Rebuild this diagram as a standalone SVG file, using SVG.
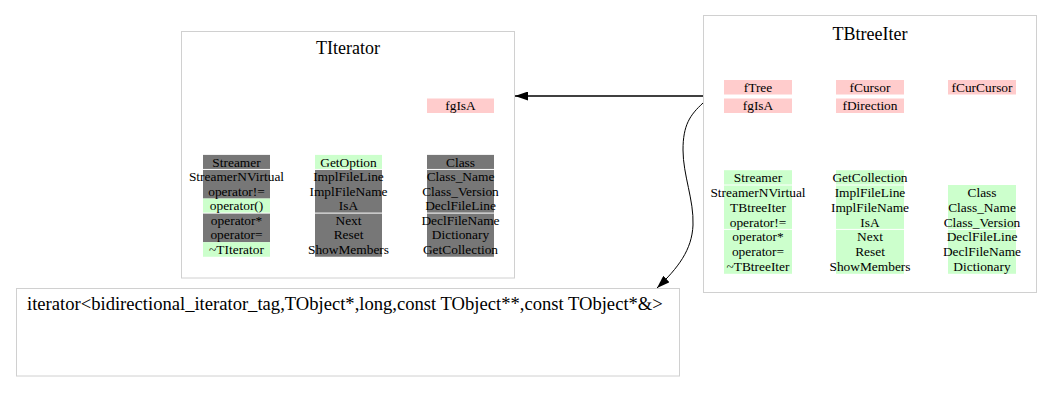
<svg xmlns="http://www.w3.org/2000/svg" width="1052" height="403" viewBox="0 0 1052 403">
<style>
.box{fill:#ffffff;stroke:#d0d0d0;stroke-width:1}
.title{font-family:"Liberation Serif","Times New Roman",serif;font-size:18px;fill:#000;text-anchor:middle}
.t{font-family:"Liberation Serif","Times New Roman",serif;font-size:13.4px;fill:#000;text-anchor:middle}
.big{font-family:"Liberation Serif","Times New Roman",serif;font-size:18.6px;fill:#000}
.f{fill:#ffcccc}
.g{fill:#ccffcc}
.d{fill:#777777}
.sep{stroke:#ffffff;stroke-width:1}
.edge{fill:none;stroke:#000;stroke-width:1}
</style>
<defs>
<marker id="ah" viewBox="0 0 13 9" refX="13" refY="4.5" markerWidth="13" markerHeight="9" markerUnits="userSpaceOnUse" orient="auto">
<path d="M0,0 L13,4.5 L0,9 Z" fill="#000"/>
</marker>
</defs>
<rect width="1052" height="403" fill="#ffffff"/>

<g id="TIterator">
<rect class="box" x="181.5" y="31.5" width="333" height="246.5"/>
<text class="title" x="348" y="54">TIterator</text>
<rect class="f" x="427" y="98.5" width="67" height="14.5"/>
<text class="t" x="460.5" y="110.2">fgIsA</text>
<rect class="d" x="203" y="154.9" width="67" height="43.65"/>
<rect class="g" x="203" y="198.55" width="67" height="14.55"/>
<rect class="d" x="203" y="213.1" width="67" height="29.1"/>
<rect class="g" x="203" y="242.2" width="67" height="14.55"/>
<rect class="g" x="315" y="154.9" width="67" height="14.55"/>
<rect class="d" x="315" y="169.45" width="67" height="87.3"/>
<rect class="d" x="427" y="154.9" width="67" height="101.85"/>
<line class="sep" x1="203" y1="169.45" x2="270" y2="169.45"/>
<line class="sep" x1="203" y1="213.1" x2="270" y2="213.1"/>
<line class="sep" x1="315" y1="169.45" x2="382" y2="169.45"/>
<line class="sep" x1="315" y1="213.1" x2="382" y2="213.1"/>
<line class="sep" x1="427" y1="169.45" x2="494" y2="169.45"/>
<line class="sep" x1="427" y1="213.1" x2="494" y2="213.1"/>
<text class="t" x="236.5" y="166.7">Streamer</text>
<text class="t" x="236.5" y="181.25">StreamerNVirtual</text>
<text class="t" x="236.5" y="195.8">operator!=</text>
<text class="t" x="236.5" y="210.35">operator()</text>
<text class="t" x="236.5" y="224.9">operator*</text>
<text class="t" x="236.5" y="239.45">operator=</text>
<text class="t" x="236.5" y="254">~TIterator</text>
<text class="t" x="348.5" y="166.7">GetOption</text>
<text class="t" x="348.5" y="181.25">ImplFileLine</text>
<text class="t" x="348.5" y="195.8">ImplFileName</text>
<text class="t" x="348.5" y="210.35">IsA</text>
<text class="t" x="348.5" y="224.9">Next</text>
<text class="t" x="348.5" y="239.45">Reset</text>
<text class="t" x="348.5" y="254">ShowMembers</text>
<text class="t" x="460.5" y="166.7">Class</text>
<text class="t" x="460.5" y="181.25">Class_Name</text>
<text class="t" x="460.5" y="195.8">Class_Version</text>
<text class="t" x="460.5" y="210.35">DeclFileLine</text>
<text class="t" x="460.5" y="224.9">DeclFileName</text>
<text class="t" x="460.5" y="239.45">Dictionary</text>
<text class="t" x="460.5" y="254">GetCollection</text>
</g>

<g id="TBtreeIter">
<rect class="box" x="703.5" y="15.5" width="333" height="277"/>
<text class="title" x="870" y="39.5">TBtreeIter</text>
<rect class="f" x="724" y="80" width="68" height="14.5"/>
<rect class="f" x="836" y="80" width="68" height="14.5"/>
<rect class="f" x="948" y="80" width="68" height="14.5"/>
<rect class="f" x="724" y="98.5" width="68" height="14.5"/>
<rect class="f" x="836" y="98.5" width="68" height="14.5"/>
<text class="t" x="758" y="91.8">fTree</text>
<text class="t" x="870" y="91.8">fCursor</text>
<text class="t" x="982" y="91.8">fCurCursor</text>
<text class="t" x="758" y="110.3">fgIsA</text>
<text class="t" x="870" y="110.3">fDirection</text>
<rect class="g" x="724" y="170.2" width="68" height="103.6"/>
<rect class="g" x="836" y="170.2" width="68" height="103.6"/>
<rect class="g" x="948" y="185" width="68" height="88.8"/>
<line class="sep" x1="724" y1="185" x2="792" y2="185"/>
<line class="sep" x1="724" y1="229.4" x2="792" y2="229.4"/>
<line class="sep" x1="836" y1="185" x2="904" y2="185"/>
<line class="sep" x1="836" y1="229.4" x2="904" y2="229.4"/>
<line class="sep" x1="948" y1="229.4" x2="1016" y2="229.4"/>
<text class="t" x="758" y="182.2">Streamer</text>
<text class="t" x="758" y="197">StreamerNVirtual</text>
<text class="t" x="758" y="211.8">TBtreeIter</text>
<text class="t" x="758" y="226.6">operator!=</text>
<text class="t" x="758" y="241.4">operator*</text>
<text class="t" x="758" y="256.2">operator=</text>
<text class="t" x="758" y="271">~TBtreeIter</text>
<text class="t" x="870" y="182.2">GetCollection</text>
<text class="t" x="870" y="197">ImplFileLine</text>
<text class="t" x="870" y="211.8">ImplFileName</text>
<text class="t" x="870" y="226.6">IsA</text>
<text class="t" x="870" y="241.4">Next</text>
<text class="t" x="870" y="256.2">Reset</text>
<text class="t" x="870" y="271">ShowMembers</text>
<text class="t" x="982" y="197">Class</text>
<text class="t" x="982" y="211.8">Class_Name</text>
<text class="t" x="982" y="226.6">Class_Version</text>
<text class="t" x="982" y="241.4">DeclFileLine</text>
<text class="t" x="982" y="256.2">DeclFileName</text>
<text class="t" x="982" y="271">Dictionary</text>
</g>

<g id="iterator">
<rect class="box" x="16.5" y="288.5" width="663" height="87.5"/>
<text class="big" x="27" y="309.5">iterator&lt;bidirectional_iterator_tag,TObject*,long,const TObject**,const TObject*&amp;&gt;</text>
</g>

<g id="connectors">
<path class="edge" style="stroke-width:1.3" d="M703,96 L515,96" marker-end="url(#ah)"/>
<path class="edge" d="M703,103 C690,115 683,125 683,150 C683,175 694,200 693,225 C692,250 678,268 657,288" marker-end="url(#ah)"/>
</g>
</svg>
